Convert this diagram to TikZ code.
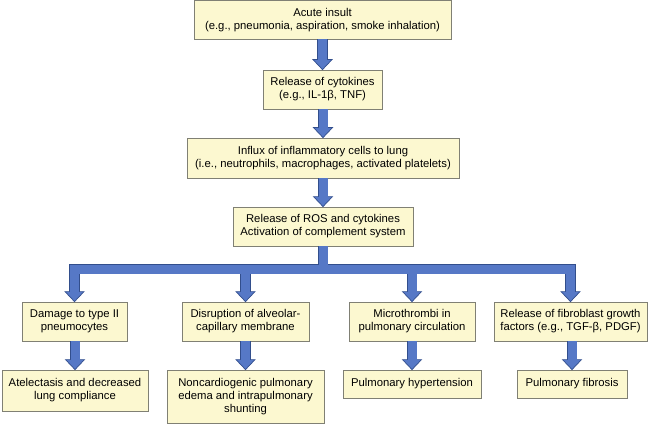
\documentclass[tikz,border=0pt]{standalone}
\usepackage{fontspec}
\setmainfont{Liberation Sans}
\usetikzlibrary{calc}
\definecolor{boxfill}{RGB}{252,248,208}
\definecolor{boxline}{RGB}{128,128,116}
\definecolor{arrfill}{RGB}{86,120,198}
\definecolor{arrline}{RGB}{50,78,140}
\tikzset{
  box/.style={draw=boxline, fill=boxfill, line width=0.8pt, align=center, inner sep=0pt,
    font=\fontsize{11.3}{13}\selectfont},
  shaftout/.style={draw=arrline, line width=10.6pt, line join=miter},
  shaftin/.style={draw=arrfill, line width=9pt, line join=miter},
  headshape/.style={fill=arrfill, draw=arrline, line width=0.7pt, line join=miter},
}
\newcommand\arrhead[1]{\path[headshape] ($(#1.north)+(-9.5,-10)$) -- (#1.north) -- ($(#1.north)+(9.5,-10)$) -- cycle;}
\newcommand\blockarrow[2]{%
  \draw[shaftout] (#1.south -| #2.north) -- ($(#2.north)+(0,-10)$);
  \arrhead{#2}
  \draw[shaftin] (#1.south -| #2.north) -- ($(#2.north)+(0,-9.4)$);}
\begin{document}
\begin{tikzpicture}[x=1pt,y=-1pt]
\useasboundingbox (0,0) rectangle (650,425);
% boxes
\node[box, minimum width=257pt, minimum height=38.5pt] (b1) at (322.5,19.8) {Acute insult\\(e.g., pneumonia, aspiration, smoke inhalation)};
\node[box, minimum width=119pt, minimum height=39pt] (b2) at (322.5,89.5) {Release of cytokines\\(e.g., IL-1β, TNF)};
\node[box, minimum width=272pt, minimum height=40pt] (b3) at (323,158) {Influx of inflammatory cells to lung\\(i.e., neutrophils, macrophages, activated platelets)};
\node[box, minimum width=180pt, minimum height=39pt] (b4) at (323,226.5) {Release of ROS and cytokines\\Activation of complement system};
\node[box, minimum width=105pt, minimum height=39pt] (b5a) at (74.5,321.5) {Damage to type II\\pneumocytes};
\node[box, minimum width=127pt, minimum height=39pt] (b5b) at (245.5,321.5) {Disruption of alveolar-\\capillary membrane};
\node[box, minimum width=126pt, minimum height=39pt] (b5c) at (412,321.5) {Microthrombi in\\pulmonary circulation};
\node[box, minimum width=153pt, minimum height=39pt] (b5d) at (570.5,321.5) {Release of fibroblast growth\\factors (e.g., TGF-β, PDGF)};
\node[box, minimum width=146pt, minimum height=41pt] (b6a) at (75,390.5) {Atelectasis and decreased\\lung compliance};
\node[box, minimum width=157pt, minimum height=53pt] (b6b) at (245.5,396.5) {Noncardiogenic pulmonary\\edema and intrapulmonary\\shunting};
\node[box, minimum width=138pt, minimum height=28pt] (b6c) at (412,384) {Pulmonary hypertension};
\node[box, minimum width=110pt, minimum height=28pt] (b6d) at (572,384) {Pulmonary fibrosis};
% straight arrows
\blockarrow{b1}{b2}
\blockarrow{b2}{b3}
\blockarrow{b3}{b4}
\blockarrow{b5a}{b6a}
\blockarrow{b5b}{b6b}
\blockarrow{b5c}{b6c}
\blockarrow{b5d}{b6d}
% branching arrow
\coordinate (bar) at (323,269);
\draw[shaftout] ($(b5a.north)+(0,-10)$) -- (b5a.north |- bar) -- (b5d.north |- bar) -- ($(b5d.north)+(0,-10)$);
\draw[shaftout] (b4.south) -- (b4.south |- bar);
\draw[shaftout] (b5b.north |- bar) -- ($(b5b.north)+(0,-10)$);
\draw[shaftout] (b5c.north |- bar) -- ($(b5c.north)+(0,-10)$);
\arrhead{b5a}
\arrhead{b5b}
\arrhead{b5c}
\arrhead{b5d}
\draw[shaftin] ($(b5a.north)+(0,-9.4)$) -- (b5a.north |- bar) -- (b5d.north |- bar) -- ($(b5d.north)+(0,-9.4)$);
\draw[shaftin] (b4.south) -- (b4.south |- bar);
\draw[shaftin] (b5b.north |- bar) -- ($(b5b.north)+(0,-9.4)$);
\draw[shaftin] (b5c.north |- bar) -- ($(b5c.north)+(0,-9.4)$);
\end{tikzpicture}
\end{document}
